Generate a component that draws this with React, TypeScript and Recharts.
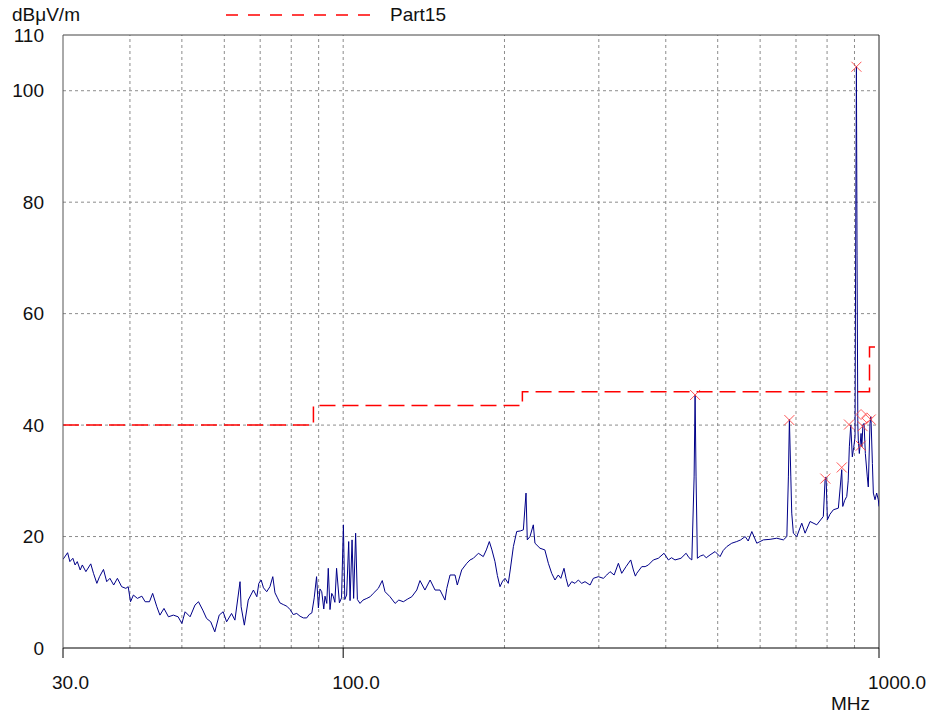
import React from "react";
import {
  ComposedChart, Line, Scatter, XAxis, YAxis, ReferenceLine,
} from "recharts";

const FREQ_MHZ = [
  30.0, 30.6, 30.9, 31.3, 31.6, 31.9, 32.3, 32.6, 33.1, 33.8,
  34.2, 34.7, 35.1, 35.7, 36.2, 36.7, 37.3, 37.9, 38.6, 39.3,
  39.7, 40.1, 40.6, 41.3, 42.1, 42.7, 43.5, 44.1, 44.9, 45.5,
  46.3, 47.2, 48.2, 49.2, 50.0, 50.7, 51.8, 52.9, 53.7, 54.7,
  55.6, 56.6, 57.6, 58.7, 59.7, 60.6, 61.9, 62.8, 64.2, 64.5,
  65.4, 66.5, 68.0, 69.0, 69.6, 70.3, 71.0, 72.0, 73.0, 73.9,
  74.6, 75.4, 76.2, 77.3, 78.5, 79.6, 80.7, 81.9, 83.1, 84.3,
  85.5, 86.4, 87.4, 88.3, 89.2, 89.9, 90.5, 91.2, 92.0, 92.5,
  93.2, 93.8, 94.5, 95.2, 95.8, 96.5, 97.2, 98.4, 99.3, 100.1,
  100.7, 101.5, 102.4, 103.0, 103.9, 104.6, 105.5, 106.3, 107.5, 108.9,
  110.7, 112.3, 113.8, 116.3, 118.3, 119.7, 122.3, 125.0, 127.0, 129.5,
  132.0, 134.3, 137.2, 139.1, 142.1, 145.3, 148.4, 151.6, 154.9, 156.1,
  158.3, 161.7, 163.3, 166.4, 170.1, 172.5, 175.0, 178.8, 182.6, 185.0,
  187.4, 189.5, 192.0, 194.0, 196.2, 198.4, 200.5, 203.3, 205.0, 207.8,
  210.8, 214.0, 216.9, 219.4, 220.6, 223.2, 226.4, 228.0, 233.0, 237.9,
  241.5, 245.0, 248.5, 252.0, 254.8, 258.3, 260.6, 263.1, 267.0, 270.8,
  274.7, 278.7, 282.7, 288.9, 293.0, 299.4, 305.9, 310.4, 314.8, 320.4,
  326.3, 331.0, 337.2, 344.1, 348.0, 351.0, 353.1, 360.8, 366.0, 371.2,
  379.2, 387.4, 397.0, 404.5, 410.0, 416.2, 427.0, 436.5, 442.0, 447.4,
  451.8, 453.7, 455.6, 458.2, 464.0, 470.0, 476.0, 483.8, 494.4, 505.1,
  512.0, 520.0, 531.1, 542.6, 552.0, 562.6, 570.0, 579.0, 591.4, 608.4,
  626.2, 644.5, 663.1, 673.0, 677.5, 680.4, 684.6, 687.3, 692.1, 702.4,
  717.6, 727.9, 743.6, 765.3, 787.2, 793.1, 796.5, 801.1, 810.0, 821.9,
  839.8, 852.1, 855.8, 863.0, 870.6, 876.0, 880.4, 885.7, 891.7, 897.0,
  902.2, 905.0, 907.5, 910.0, 913.0, 915.0, 919.0, 925.8, 929.0, 933.0,
  937.8, 943.0, 951.0, 955.0, 962.0, 966.0, 972.0, 976.0, 983.0, 990.0,
  997.0, 1000.0,
];
const LEVEL_DB = [
  15.9, 17.1, 15.5, 16.1, 14.9, 15.5, 14.0, 14.9, 13.7, 15.1,
  13.4, 11.6, 12.8, 14.1, 11.9, 12.5, 11.3, 12.5, 11.0, 10.7,
  11.0, 8.3, 9.5, 8.9, 9.3, 8.3, 8.3, 9.8, 7.4, 5.9,
  7.1, 5.6, 5.9, 5.6, 4.4, 6.5, 5.6, 7.7, 8.3, 6.8,
  5.3, 4.7, 2.9, 5.9, 6.5, 4.7, 6.2, 5.0, 11.9, 7.4,
  4.1, 8.6, 10.4, 9.2, 11.6, 12.2, 10.8, 10.1, 11.0, 12.8,
  9.9, 9.0, 8.1, 7.8, 7.5, 6.9, 6.0, 6.2, 5.7, 5.4,
  5.4, 6.0, 6.3, 9.0, 12.8, 7.2, 10.6, 10.1, 7.0, 9.3,
  8.0, 14.3, 6.9, 9.8, 9.3, 8.2, 14.3, 8.1, 9.0, 22.1,
  8.7, 9.5, 19.1, 8.5, 19.4, 8.9, 20.6, 8.7, 8.0, 8.6,
  8.9, 9.2, 9.8, 10.7, 12.1, 10.1, 9.2, 8.0, 8.6, 8.3,
  8.8, 9.2, 10.4, 12.1, 10.4, 12.2, 10.4, 10.4, 8.6, 10.7,
  13.1, 13.1, 11.3, 14.0, 15.2, 15.8, 16.1, 17.0, 16.4, 17.6,
  19.1, 17.6, 15.5, 13.0, 11.0, 12.0, 12.5, 11.6, 14.0, 18.2,
  20.9, 21.0, 21.2, 27.8, 19.4, 20.0, 22.1, 18.8, 17.9, 17.6,
  15.2, 13.4, 12.2, 13.1, 12.5, 14.3, 12.5, 11.0, 11.9, 11.6,
  12.2, 11.6, 11.9, 11.3, 12.5, 12.8, 12.5, 13.1, 13.7, 13.1,
  15.2, 13.4, 14.6, 15.8, 14.0, 12.9, 13.4, 14.6, 14.6, 14.9,
  15.8, 16.1, 17.0, 15.8, 16.2, 15.8, 16.1, 17.0, 16.2, 15.8,
  30.7, 45.4, 30.7, 16.1, 16.5, 16.7, 16.2, 16.7, 17.3, 16.4,
  17.5, 18.2, 18.8, 19.1, 19.4, 20.0, 19.2, 20.9, 18.8, 19.4,
  19.5, 19.7, 19.4, 20.0, 30.7, 41.0, 30.7, 24.2, 20.6, 20.0,
  22.4, 20.6, 22.7, 22.1, 23.6, 30.1, 30.7, 23.0, 24.0, 24.8,
  25.1, 32.0, 25.4, 26.5, 27.2, 30.0, 36.1, 40.0, 34.3, 36.0,
  37.9, 77.2, 104.4, 70.5, 40.0, 37.3, 34.9, 38.5, 36.1, 40.0,
  40.3, 34.9, 30.7, 28.9, 40.3, 41.5, 33.1, 27.8, 26.6, 27.8,
  26.6, 25.4,
];

// Part15 limit
const LIMIT_MHZ = [30, 88, 88, 216, 216, 960, 960, 1000];
const LIMIT_DB = [40, 40, 43.5, 43.5, 46, 46, 54, 54];

// peak markers (x) and the two diamond markers
const PEAK_MHZ = [453.7, 680.4, 794.0, 852.1, 879.0, 907.5, 924.6, 932.0, 965.0];
const PEAK_DB = [45.4, 40.9, 30.4, 32.4, 40.1, 104.3, 36.3, 39.8, 41.0];
const QP_MHZ = [925.8, 949.0];
const QP_DB = [41.9, 41.3];

const X_TICKS = [30, 100, 1000];
const Y_TICKS = [0, 20, 40, 60, 80, 100, 110];
const X_GRID = [40, 50, 60, 70, 80, 90, 100, 200, 300, 400, 500, 600, 700, 800, 900];
const Y_GRID = [20, 40, 60, 80, 100];

const FONT = "Arial, 'Liberation Sans', sans-serif";
const GRID = "#8c8c8c";

const trace = FREQ_MHZ.map((f, i) => ({ f, v: LEVEL_DB[i] }));
const limit = LIMIT_MHZ.map((f, i) => ({ f, v: LIMIT_DB[i] }));
const peaks = PEAK_MHZ.map((f, i) => ({ f, v: PEAK_DB[i] }));
const qps = QP_MHZ.map((f, i) => ({ f, v: QP_DB[i] }));

const XMark = ({ cx, cy }: any) => (
  <g stroke="#ff3b3b" strokeWidth={1} opacity={0.85}>
    <line x1={cx - 5} y1={cy - 5} x2={cx + 5} y2={cy + 5} />
    <line x1={cx - 5} y1={cy + 5} x2={cx + 5} y2={cy - 5} />
  </g>
);

const Diamond = ({ cx, cy }: any) => (
  <polygon
    points={`${cx},${cy - 5} ${cx + 5},${cy} ${cx},${cy + 5} ${cx - 5},${cy}`}
    fill="none" stroke="#ff4a4a" strokeWidth={1} opacity={0.85}
  />
);

const XTick = ({ x, y, payload }: any) => (
  <text x={x - 11} y={y + 29} textAnchor="start" fontSize={19} fontFamily={FONT} fill="#111">
    {Number(payload.value).toFixed(1)}
  </text>
);

const YTick = ({ x, y, payload }: any) => (
  <text x={x} y={y + 6.5} textAnchor="end" fontSize={19} fontFamily={FONT} fill="#111">
    {payload.value}
  </text>
);

export default function App() {
  return (
    <div style={{ position: "absolute", left: 0, top: 0, width: 935, height: 717, background: "#fff" }}>
      <ComposedChart
        width={935}
        height={717}
        data={trace}
        margin={{ top: 35, right: 56, left: 0, bottom: 0 }}
      >
        <XAxis
          dataKey="f"
          type="number"
          scale="log"
          domain={[30, 1000]}
          allowDataOverflow
          ticks={X_TICKS}
          height={69}
          tickSize={10}
          tickMargin={2}
          tick={<XTick />}
          axisLine={{ stroke: "#000" }}
          tickLine={{ stroke: "#000" }}
        />
        <YAxis
          type="number"
          domain={[0, 110]}
          ticks={Y_TICKS}
          width={63}
          tickSize={0}
          tickMargin={19}
          tickLine={false}
          tick={<YTick />}
          axisLine={{ stroke: "#555" }}
        />
        {X_GRID.map((g) => (
          <ReferenceLine key={`vx${g}`} x={g} stroke={GRID} strokeDasharray="3 3" />
        ))}
        {Y_GRID.map((g) => (
          <ReferenceLine key={`hy${g}`} y={g} stroke={GRID} strokeDasharray="3 3" />
        ))}
        <ReferenceLine y={110} stroke="#444" />
        <ReferenceLine x={1000} stroke="#222" />
        <Line
          data={limit}
          dataKey="v"
          type="linear"
          stroke="#ff0000"
          strokeWidth={1.5}
          strokeDasharray="16 7"
          dot={false}
          activeDot={false}
          isAnimationActive={false}
        />
        <Line
          dataKey="v"
          type="linear"
          stroke="#000088"
          strokeWidth={1}
          dot={false}
          activeDot={false}
          isAnimationActive={false}
        />
        <Scatter data={peaks} dataKey="v" shape={<XMark />} isAnimationActive={false} />
        <Scatter data={qps} dataKey="v" shape={<Diamond />} isAnimationActive={false} />
      </ComposedChart>
      <svg
        width={935}
        height={717}
        style={{ position: "absolute", left: 0, top: 0, pointerEvents: "none" }}
      >
        <text x={12} y={20.5} fontSize={19} fontFamily={FONT} fill="#111">dBμV/m</text>
        <line x1={226} y1={15} x2={373} y2={15} stroke="#ff0000" strokeWidth={1.5} strokeDasharray="12 10" />
        <text x={390} y={20.5} fontSize={19} fontFamily={FONT} fill="#111">Part15</text>
        <text x={831} y={710} fontSize={19} fontFamily={FONT} fill="#111">MHz</text>
      </svg>
    </div>
  );
}
